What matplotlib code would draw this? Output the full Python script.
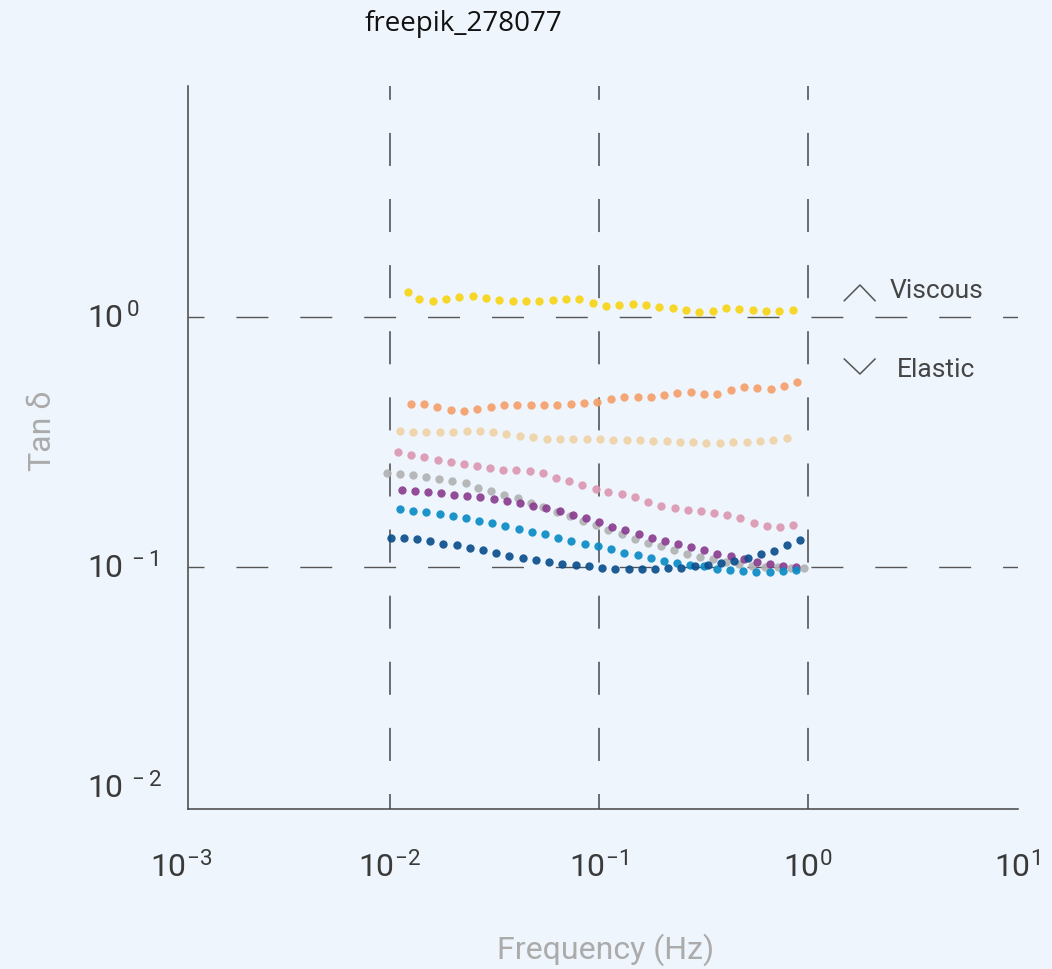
import numpy as np
import matplotlib
matplotlib.use('Agg')
import matplotlib.pyplot as plt

plt.rcParams['font.family'] = ['Roboto', 'DejaVu Sans']
plt.rcParams['lines.scale_dashes'] = False

# frequency (Hz) / tan delta per sample
f_yellow = [0.0122, 0.0138, 0.0160, 0.0185, 0.0215, 0.0249, 0.0288, 0.0334, 0.0386, 0.0447,
            0.0518, 0.0600, 0.0695, 0.0805, 0.0933, 0.108, 0.125, 0.145, 0.168, 0.194,
            0.225, 0.261, 0.302, 0.350, 0.405, 0.469, 0.544, 0.630, 0.729, 0.845]
t_yellow = [1.255, 1.180, 1.162, 1.180, 1.206, 1.210, 1.191, 1.166, 1.155, 1.155,
            1.162, 1.169, 1.180, 1.180, 1.138, 1.110, 1.117, 1.127, 1.120, 1.100,
            1.083, 1.063, 1.050, 1.060, 1.086, 1.080, 1.063, 1.057, 1.060, 1.070]

f_orange = [0.0126, 0.0145, 0.0168, 0.0195, 0.0226, 0.0262, 0.0303, 0.0352, 0.0407, 0.0471,
            0.0545, 0.0632, 0.0732, 0.0848, 0.0982, 0.114, 0.132, 0.153, 0.177, 0.205,
            0.237, 0.275, 0.318, 0.368, 0.427, 0.494, 0.573, 0.663, 0.768, 0.889]
t_orange = [0.449, 0.449, 0.438, 0.425, 0.421, 0.430, 0.438, 0.443, 0.445, 0.446,
            0.445, 0.445, 0.447, 0.452, 0.457, 0.468, 0.479, 0.480, 0.479, 0.489,
            0.498, 0.500, 0.492, 0.494, 0.511, 0.523, 0.520, 0.515, 0.530, 0.548]

f_beige = [0.0112, 0.0129, 0.0149, 0.0174, 0.0201, 0.0233, 0.0270, 0.0312, 0.0361, 0.0419,
           0.0485, 0.0562, 0.0650, 0.0754, 0.0873, 0.101, 0.117, 0.136, 0.157, 0.182,
           0.211, 0.244, 0.283, 0.327, 0.379, 0.440, 0.509, 0.589, 0.683, 0.790]
t_beige = [0.349, 0.348, 0.348, 0.348, 0.348, 0.349, 0.349, 0.346, 0.340, 0.335,
           0.330, 0.326, 0.324, 0.324, 0.324, 0.324, 0.323, 0.322, 0.321, 0.319,
           0.318, 0.317, 0.315, 0.314, 0.314, 0.315, 0.317, 0.320, 0.323, 0.329]

f_pink = [0.01095, 0.01266, 0.01463, 0.01691, 0.01955, 0.0226, 0.0261, 0.0302, 0.0349, 0.0403,
          0.0466, 0.0539, 0.0623, 0.0720, 0.0833, 0.0963, 0.111, 0.129, 0.149, 0.172,
          0.199, 0.230, 0.266, 0.307, 0.355, 0.411, 0.475, 0.549, 0.634, 0.733, 0.848]
t_pink = [0.288, 0.281, 0.275, 0.269, 0.264, 0.259, 0.253, 0.248, 0.245, 0.244,
          0.243, 0.237, 0.228, 0.220, 0.213, 0.206, 0.200, 0.196, 0.191, 0.182,
          0.176, 0.172, 0.169, 0.167, 0.165, 0.161, 0.157, 0.150, 0.146, 0.145, 0.147]

f_gray = [0.00971, 0.01121, 0.01294, 0.01493, 0.01724, 0.0199, 0.0230, 0.0265, 0.0306, 0.0353,
          0.0408, 0.0471, 0.0543, 0.0627, 0.0724, 0.0836, 0.0965, 0.111, 0.129, 0.148,
          0.171, 0.198, 0.228, 0.263, 0.304, 0.351, 0.405, 0.467, 0.539, 0.623,
          0.719, 0.830, 0.958]
t_gray = [0.238, 0.236, 0.233, 0.230, 0.226, 0.221, 0.216, 0.208, 0.202, 0.195,
          0.188, 0.181, 0.174, 0.166, 0.160, 0.153, 0.147, 0.141, 0.135, 0.130,
          0.125, 0.121, 0.117, 0.113, 0.110, 0.108, 0.105, 0.103, 0.101, 0.100,
          0.0997, 0.099, 0.099]

f_purple = [0.01137, 0.01314, 0.01519, 0.01756, 0.0203, 0.0235, 0.0271, 0.0314, 0.0363, 0.0419,
            0.0485, 0.0560, 0.0648, 0.0749, 0.0866, 0.1001, 0.116, 0.134, 0.155, 0.179,
            0.207, 0.239, 0.276, 0.319, 0.369, 0.427, 0.493, 0.570, 0.659, 0.762, 0.881]
t_purple = [0.203, 0.201, 0.200, 0.198, 0.195, 0.193, 0.190, 0.187, 0.184, 0.180,
            0.176, 0.172, 0.167, 0.162, 0.157, 0.151, 0.145, 0.141, 0.136, 0.131,
            0.127, 0.124, 0.120, 0.117, 0.113, 0.111, 0.108, 0.105, 0.103, 0.101, 0.100]

f_lblue = [0.01117, 0.01292, 0.01494, 0.01728, 0.0200, 0.0231, 0.0267, 0.0309, 0.0357, 0.0413,
           0.0478, 0.0553, 0.0639, 0.0739, 0.0855, 0.0989, 0.114, 0.132, 0.153, 0.177,
           0.205, 0.237, 0.274, 0.317, 0.366, 0.424, 0.490, 0.567, 0.656, 0.758, 0.877]
t_lblue = [0.170, 0.168, 0.166, 0.163, 0.160, 0.157, 0.153, 0.150, 0.146, 0.142,
           0.138, 0.135, 0.131, 0.127, 0.124, 0.121, 0.118, 0.114, 0.112, 0.109,
           0.106, 0.104, 0.102, 0.101, 0.0985, 0.0970, 0.0961, 0.0955, 0.0952, 0.0961, 0.0973]

f_dblue = [0.01007, 0.01165, 0.01348, 0.01559, 0.01803, 0.0209, 0.0241, 0.0279, 0.0323, 0.0373,
           0.0432, 0.0500, 0.0578, 0.0669, 0.0774, 0.0895, 0.1035, 0.120, 0.139, 0.160,
           0.185, 0.215, 0.248, 0.287, 0.332, 0.384, 0.444, 0.514, 0.595, 0.688, 0.796, 0.921]
t_dblue = [0.131, 0.131, 0.129, 0.127, 0.124, 0.122, 0.119, 0.117, 0.114, 0.111,
           0.109, 0.107, 0.105, 0.103, 0.102, 0.101, 0.0994, 0.0985, 0.0982, 0.0982,
           0.0985, 0.0988, 0.0994, 0.101, 0.102, 0.104, 0.106, 0.109, 0.113, 0.116, 0.122, 0.128]

series = [
    (f_yellow, t_yellow, '#f7d417'),
    (f_orange, t_orange, '#f5a06c'),
    (f_beige, t_beige, '#eed3a6'),
    (f_pink, t_pink, '#dc98b2'),
    (f_gray, t_gray, '#b2b2b2'),
    (f_purple, t_purple, '#8a3d90'),
    (f_lblue, t_lblue, '#0a8cc6'),
    (f_dblue, t_dblue, '#0b4f8c'),
]

x_ticks = [1e-3, 1e-2, 1e-1, 1e0, 1e1]
x_labels = [r'$\mathregular{10^{-3}}$', r'$\mathregular{10^{-2}}$', r'$\mathregular{10^{-1}}$',
            r'$\mathregular{10^{0}}$', r'$\mathregular{10^{1}}$']
y_ticks = [1e0, 1e-1]
y_labels = [r'$\mathregular{10^{\,0}}$', r'$\mathregular{10^{\,-1}}$']
y_bottom_label = r'$\mathregular{10^{\,-2}}$'

bg = '#eef5fc'
grid_col = '#555555'
fig = plt.figure(figsize=(10.52, 9.70), dpi=100, facecolor=bg)
ax = fig.add_axes([0.1787, 0.1649, 0.7890, 0.7454])
ax.set_facecolor(bg)
ax.set_xscale('log')
ax.set_yscale('log')
ax.set_xlim(10 ** -2.966, 10 ** 1.005)
ax.set_ylim(10 ** -1.968, 10 ** 0.924)

# dashed grid
for xv in x_ticks[1:4]:
    ax.axvline(xv, color=grid_col, lw=1.2, ls=(13, (23.8, 23.8)), zorder=1)
for yv in y_ticks:
    ax.axhline(yv, color=grid_col, lw=1.0, ls=(11.5, (23, 23)), zorder=1)

for f, t, c in series:
    ax.plot(f, t, 'o', ms=6, color=c, mec='none', alpha=0.92, zorder=3)

for s in ['top', 'right']:
    ax.spines[s].set_visible(False)
for s in ['left', 'bottom']:
    ax.spines[s].set_color('#444444')
    ax.spines[s].set_linewidth(1.1)
ax.set_xticks([])
ax.set_yticks([])
ax.minorticks_off()

# tick labels
for xv, lab in zip(x_ticks, x_labels):
    ax.text(xv, -0.079, lab, transform=ax.get_xaxis_transform(), ha='center', va='center',
            fontsize=23, color='#3a3a3a', clip_on=False)
for yv, lab in zip(y_ticks, y_labels):
    ax.text(-0.1217, yv, lab, transform=ax.get_yaxis_transform(), ha='left', va='center',
            fontsize=23, color='#3a3a3a', clip_on=False)
ax.text(-0.1217, 0.03, y_bottom_label, transform=ax.transAxes, ha='left', va='center',
        fontsize=23, color='#3a3a3a', clip_on=False)

ax.text(-0.175, 0.525, 'Tan δ', transform=ax.transAxes, rotation=90, ha='center', va='center',
        fontsize=23, color='#ababab')
fig.text(0.576, 0.021, 'Frequency (Hz)', ha='center', va='center', fontsize=23,
         color='#ababab')
fig.text(0.441, 0.975, 'freepik_278077', ha='center', va='center', fontsize=20,
         color='#111111', family=['Open Sans', 'DejaVu Sans'])

# viscous / elastic markers
ax.plot([0.7907, 0.8096, 0.8277], [0.7031, 0.7248, 0.7031], color='#555555', lw=1.1,
        transform=ax.transAxes, clip_on=False)
ax.plot([0.7907, 0.8096, 0.8277], [0.6224, 0.6017, 0.6224], color='#555555', lw=1.1,
        transform=ax.transAxes, clip_on=False)
ax.text(0.8458, 0.7178, 'Viscous', transform=ax.transAxes, ha='left', va='center',
        fontsize=19, color='#454545')
ax.text(0.8542, 0.6086, 'Elastic', transform=ax.transAxes, ha='left', va='center',
        fontsize=19, color='#454545')

fig.savefig('out.png', dpi=100, facecolor=bg)
